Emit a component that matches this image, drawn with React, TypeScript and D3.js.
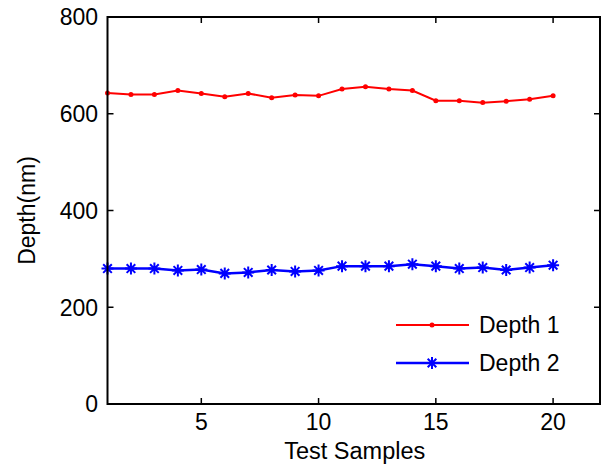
import React from "react";
import * as d3 from "d3";

const samples = d3.range(1, 21);
const depth1 = [643, 640, 640, 648, 642, 635, 642, 633, 639, 637, 651, 656, 651, 648, 627, 627, 623, 626, 630, 637];
const depth2 = [280, 280, 280, 276, 278, 270, 272, 277, 274, 276, 285, 285, 285, 289, 285, 280, 282, 277, 282, 287];
const xTicks = [5, 10, 15, 20];
const yTicks = [0, 200, 400, 600, 800];
const seriesNames = ["Depth 1", "Depth 2"];

const W = 603, H = 470;
const M = { left: 107.5, right: 600, top: 17, bottom: 404 };
const FONT = "'Liberation Sans', Arial, sans-serif";
const FS = 23;

export default function App() {
  const x = d3.scaleLinear().domain([1, 22]).range([M.left, M.right]);
  const y = d3.scaleLinear().domain([0, 800]).range([M.bottom, M.top]);
  const line = d3.line<number>().x((_, i) => x(samples[i])).y((d) => y(d));
  const tick = 6;
  const star = (cx: number, cy: number, s: number, key: string | number) => {
    const r = s / 2;
    const d = r * 0.72;
    return (
      <path
        key={key}
        d={`M${cx - r},${cy}L${cx + r},${cy}M${cx},${cy - r}L${cx},${cy + r}M${cx - d},${cy - d}L${cx + d},${cy + d}M${cx - d},${cy + d}L${cx + d},${cy - d}`}
        stroke="#0000ff"
        strokeWidth={2}
        fill="none"
      />
    );
  };
  return (
    <svg width={W} height={H} style={{ position: "absolute", left: 0, top: 0, background: "#fff" }} fontFamily={FONT}>
      <rect x={0} y={0} width={W} height={H} fill="#fff" />
      <path d={line(depth1) || ""} fill="none" stroke="#ff0000" strokeWidth={2} />
      {depth1.map((v, i) => (
        <circle key={i} cx={x(samples[i])} cy={y(v)} r={2.5} fill="#ff0000" />
      ))}
      <path d={line(depth2) || ""} fill="none" stroke="#0000ff" strokeWidth={2.5} />
      {depth2.map((v, i) => star(x(samples[i]), y(v), 12, i))}
      <rect x={M.left} y={M.top} width={M.right - M.left} height={M.bottom - M.top} fill="none" stroke="#000" strokeWidth={2} />
      {xTicks.map((t) => (
        <g key={t}>
          <line x1={x(t)} x2={x(t)} y1={M.bottom} y2={M.bottom - tick} stroke="#000" strokeWidth={1.5} />
          <line x1={x(t)} x2={x(t)} y1={M.top} y2={M.top + tick} stroke="#000" strokeWidth={1.5} />
          <text x={x(t)} y={430} textAnchor="middle" fontSize={FS}>{t}</text>
        </g>
      ))}
      {yTicks.map((t) => (
        <g key={t}>
          <line x1={M.left} x2={M.left + tick} y1={y(t)} y2={y(t)} stroke="#000" strokeWidth={1.5} />
          <line x1={M.right} x2={M.right - tick} y1={y(t)} y2={y(t)} stroke="#000" strokeWidth={1.5} />
          <text x={98} y={y(t)} dy="0.36em" textAnchor="end" fontSize={FS}>{t}</text>
        </g>
      ))}
      <text x={(M.left + M.right) / 2 + 1} y={459} textAnchor="middle" fontSize={FS + 0.5}>Test Samples</text>
      <text transform={`translate(35,${(M.top + M.bottom) / 2}) rotate(-90)`} textAnchor="middle" fontSize={FS}>Depth(nm)</text>
      <line x1={396} x2={469} y1={325} y2={325} stroke="#ff0000" strokeWidth={2} />
      <circle cx={432} cy={325} r={2.5} fill="#ff0000" />
      <text x={479} y={325} dy="0.36em" fontSize={FS}>{seriesNames[0]}</text>
      <line x1={396} x2={469} y1={363} y2={363} stroke="#0000ff" strokeWidth={2.5} />
      {star(432, 363, 12, "leg")}
      <text x={479} y={363} dy="0.36em" fontSize={FS}>{seriesNames[1]}</text>
    </svg>
  );
}
